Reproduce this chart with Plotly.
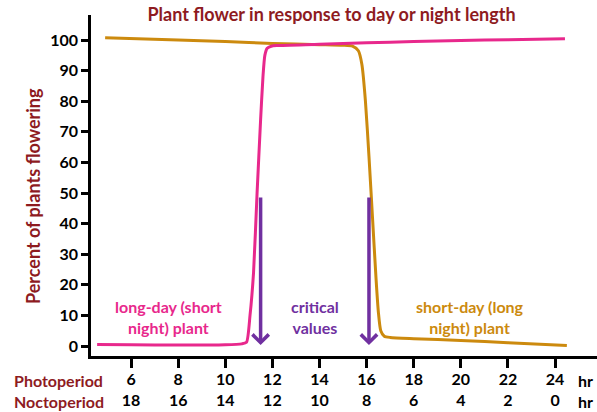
import plotly.graph_objects as go

# Photoperiod (hours of light) and percent of plants flowering
long_day_hours = [4.56, 6.0, 8.0, 10.0, 10.7, 10.9, 11.05, 11.2, 11.35, 11.5, 11.6, 11.68, 11.78, 11.95, 12.2, 14.0, 16.0, 18.0, 20.0, 22.0, 24.42]
long_day_pct = [0.5, 0.4, 0.3, 0.4, 0.7, 1.2, 10.0, 24.0, 50.0, 74.0, 88.0, 95.0, 97.3, 98.0, 98.2, 98.6, 99.1, 99.5, 99.9, 100.1, 100.4]

short_day_hours = [4.9, 8.0, 10.0, 12.0, 14.0, 15.0, 15.4, 15.65, 15.8, 15.95, 16.1, 16.25, 16.4, 16.5, 16.6, 16.75, 17.0, 18.0, 20.0, 22.0, 24.5]
short_day_pct = [100.8, 100.0, 99.5, 98.9, 98.5, 98.3, 98.0, 96.5, 92.0, 80.0, 62.0, 42.0, 22.0, 11.0, 5.0, 3.2, 2.8, 2.4, 1.8, 1.1, 0.2]

critical_hours = [11.5, 16.1]
critical_top = 49

photoperiod_ticks = [6, 8, 10, 12, 14, 16, 18, 20, 22, 24]
noctoperiod_ticks = [18, 16, 14, 12, 10, 8, 6, 4, 2, 0]
y_ticks = [0, 10, 20, 30, 40, 50, 60, 70, 80, 90, 100]

PINK = "#E8288C"
GOLD = "#CC8A0E"
PURPLE = "#7030A0"
DARK_RED = "#8E1B1F"
FONT = "Lato"

fig = go.Figure()
fig.add_trace(go.Scatter(x=short_day_hours, y=short_day_pct, mode="lines",
                         line=dict(color=GOLD, width=3, shape="spline", smoothing=0.6),
                         hoverinfo="skip", showlegend=False))
fig.add_trace(go.Scatter(x=long_day_hours, y=long_day_pct, mode="lines",
                         line=dict(color=PINK, width=3, shape="spline", smoothing=0.6),
                         hoverinfo="skip", showlegend=False))

# Critical value arrows
for h in critical_hours:
    fig.add_annotation(x=h, y=0.3, ax=h, ay=critical_top, xref="x", yref="y",
                       axref="x", ayref="y", text="", showarrow=True,
                       arrowhead=4, arrowsize=0.9, arrowwidth=3.5, arrowcolor=PURPLE)

fig.add_annotation(x=7.6, y=9.5, xref="x", yref="y",
                   text="long-day (short<br>night) plant", showarrow=False,
                   font=dict(family=FONT, size=16, color=PINK, weight="bold"))
fig.add_annotation(x=13.8, y=9.5, xref="x", yref="y",
                   text="critical<br>values", showarrow=False,
                   font=dict(family=FONT, size=16, color=PURPLE, weight="bold"))
fig.add_annotation(x=20.4, y=9.5, xref="x", yref="y",
                   text="short-day (long<br>night) plant", showarrow=False,
                   font=dict(family=FONT, size=16, color=GOLD, weight="bold"))

# Row captions for the two tick-label rows
fig.add_annotation(x=12, y=391, xref="paper", yref="paper", xanchor="left",
                   yanchor="middle", text="Photoperiod<br>Noctoperiod",
                   showarrow=False, align="left",
                   font=dict(family=FONT, size=16, color=DARK_RED, weight="bold"))
fig.add_annotation(x=25.3, y=391, xref="x", yref="paper", yanchor="middle",
                   text="hr<br>hr", showarrow=False,
                   font=dict(family=FONT, size=16, color="black", weight="bold"))

# Axis title placed as a rotated annotation
fig.add_annotation(x=33, y=196, xref="paper", yref="paper", textangle=-90,
                   text="Percent of plants flowering", showarrow=False,
                   xanchor="center", yanchor="middle",
                   font=dict(family=FONT, size=18, color=DARK_RED, weight="bold"))

W, H = 597, 412
L, R, T, B = 91, 0, 15, 56
pw, ph = W - L - R, H - T - B
# convert pixel positions of paper-referenced annotations
for ann in fig.layout.annotations:
    if ann.xref == "paper":
        ann.x = (ann.x - L) / pw
    if ann.yref == "paper":
        ann.y = (H - B - ann.y) / ph

fig.update_layout(
    width=W, height=H,
    margin=dict(l=L, r=R, t=T, b=B),
    paper_bgcolor="white", plot_bgcolor="white",
    title=dict(text="Plant flower in response to day or night length",
               x=331.5 / W, xanchor="center", y=1 - 15 / H, yanchor="middle",
               font=dict(family=FONT, size=18, color=DARK_RED, weight="bold")),
    xaxis=dict(range=[4.3, 25.78], tickmode="array", tickvals=photoperiod_ticks,
               ticktext=[f"{p}<br>{n}" for p, n in zip(photoperiod_ticks, noctoperiod_ticks)],
               ticks="outside", ticklen=9, tickwidth=2.5, tickcolor="black",
               showline=True, linecolor="black", linewidth=2.5,
               showgrid=False, zeroline=False, ticklabelstandoff=-2,
               tickfont=dict(family=FONT, size=16, color="black", weight="bold")),
    yaxis=dict(range=[-3.27, 108.2], tickmode="array", tickvals=y_ticks,
               ticks="outside", ticklen=7, tickwidth=2.5, tickcolor="black",
               showline=True, linecolor="black", linewidth=2.5,
               showgrid=False, zeroline=False,
               tickfont=dict(family=FONT, size=16, color="black", weight="bold")),
)

fig.write_html("out.html")
